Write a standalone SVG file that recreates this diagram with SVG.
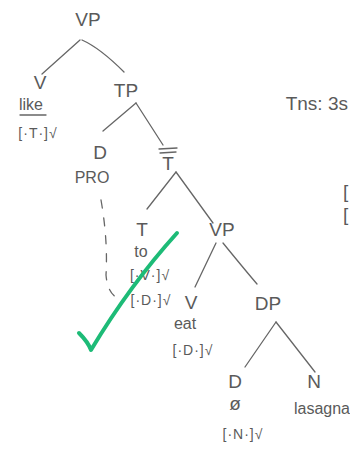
<svg xmlns="http://www.w3.org/2000/svg" width="350" height="449" viewBox="0 0 350 449">
<style>
text{font-family:"Liberation Sans",Arial,sans-serif;fill:#5a5a5a;text-anchor:middle}
.l{font-size:19px}
.w{font-size:16px}
.f{font-size:14px;letter-spacing:1px}
.e{stroke:#666;stroke-width:1.3;fill:none;stroke-linecap:round}
</style>
<rect width="350" height="449" fill="#fff"/>
<g id="connectors">
<path class="e" d="M80 40 L42 74"/>
<path class="e" d="M82 40 Q100 48 124 72"/>
<path class="e" d="M136 103 L103 131"/>
<path class="e" d="M136 103 L163 145"/>
<path class="e" d="M176 172 L147 209"/>
<path class="e" d="M176 172 L213 223"/>
<path class="e" d="M216 243 L195 287"/>
<path class="e" d="M223 243 Q245 270 257 284"/>
<path class="e" d="M276 322 L245 367"/>
<path class="e" d="M276 322 L315 372"/>
<path class="e" d="M101 200 Q108 240 106 275 Q108 298 124 300" stroke="#999" stroke-dasharray="8 10"/>
</g>
<g id="VP1"><text class="l" x="88" y="26">VP</text></g>
<g id="V1"><text class="l" x="40" y="89">V</text><text class="w" x="31" y="110">like</text><path class="e" d="M20 115 L46 115"/><text class="f" x="38" y="138">[·T·]√</text></g>
<g id="TP"><text class="l" x="126" y="97">TP</text></g>
<g id="D1"><text class="l" x="100" y="159">D</text><text class="w" x="92" y="183">PRO</text></g>
<g id="Tbar"><path class="e" d="M159 149 L177 148 M160 153 L176 152"/><text class="l" x="168" y="170">T</text></g>
<g id="T"><text class="l" x="142" y="236">T</text><text class="w" x="141" y="257">to</text><text class="f" x="150" y="280">[·V·]√</text><text class="f" x="151" y="305">[·D·]√</text></g>
<g id="VP2"><text class="l" x="222" y="236">VP</text></g>
<g id="V2"><text class="l" x="191" y="309">V</text><text class="w" x="185" y="329">eat</text><text class="f" x="193" y="355">[·D·]√</text></g>
<g id="DP"><text class="l" x="268" y="310">DP</text></g>
<g id="D2"><text class="l" x="235" y="388">D</text><text class="w" x="235" y="410" style="font-size:19px">ø</text><text class="f" x="243" y="439">[·N·]√</text></g>
<g id="N"><text class="l" x="314" y="388">N</text><text class="w" x="322" y="414">lasagna</text></g>
<g id="notes"><text class="l" x="348" y="110" style="text-anchor:end">Tns: 3s</text><text class="l" x="343" y="198" style="text-anchor:start">[</text><text class="l" x="343" y="221" style="text-anchor:start">[</text></g>
<path d="M79 333 Q88 342 91 350 Q130 285 177 233" fill="none" stroke="#1dbb77" stroke-width="4" stroke-linecap="round" stroke-linejoin="round"/>
</svg>
